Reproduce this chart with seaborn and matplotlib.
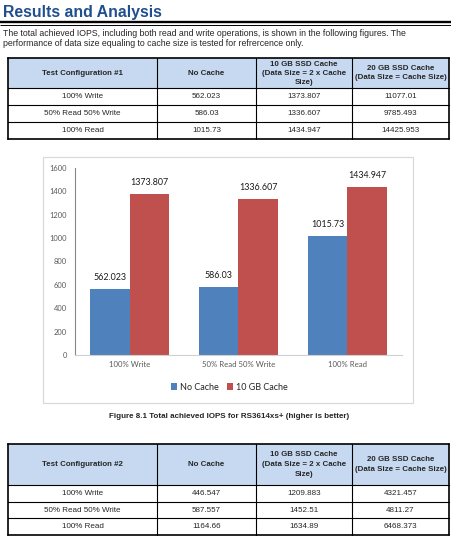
import pandas as pd
import matplotlib.pyplot as plt
import seaborn as sns
from matplotlib.patches import Rectangle

# Table / chart values read from the page
workloads = ["100% Write", "50% Read 50% Write", "100% Read"]

config1_no_cache = [562.023, 586.03, 1015.73]
config1_ssd_10gb = [1373.807, 1336.607, 1434.947]
config1_ssd_20gb = ["11077.01", "9785.493", "14425.953"]

config2_no_cache = ["446.547", "587.557", "1164.66"]
config2_ssd_10gb = ["1209.883", "1452.51", "1634.89"]
config2_ssd_20gb = ["4321.457", "4811.27", "6468.373"]

series_names = ["No Cache", "10 GB Cache"]
y_ticks = [0, 200, 400, 600, 800, 1000, 1200, 1400, 1600]

sns.set_theme(style="white")
plt.rcParams['font.family'] = ['Liberation Sans', 'DejaVu Sans']

BLUE = "#4F81BD"
RED = "#C0504D"
HEAD_FILL = "#C6D9F1"
TITLE_BLUE = "#1F4F8F"
CHART_FONT = ['Lato', 'DejaVu Sans']

fig = plt.figure(figsize=(4.52, 5.38), dpi=100)
fig.patch.set_facecolor("white")

# page layer in pixel coordinates (origin top-left)
page = fig.add_axes([0, 0, 1, 1], zorder=0)
page.set_xlim(0, 452)
page.set_ylim(538, 0)
page.axis('off')

# --- heading and intro text ---
page.text(3, 12, "Results and Analysis", fontsize=11.4, weight='bold',
          color=TITLE_BLUE, va='center', ha='left')
page.plot([0, 452], [22.2, 22.2], color='black', lw=1.7, solid_capstyle='butt')
page.plot([0, 452], [24.9, 24.9], color='black', lw=0.7, solid_capstyle='butt')
page.text(3, 33.3, "The total achieved IOPS, including both read and write operations, "
          "is shown in the following figures. The", fontsize=6.33, va='center')
page.text(3, 44, "performance of data size equaling to cache size is tested for "
          "refrercence only.", fontsize=6.33, va='center')

COLS = [8, 157, 256, 352, 449]


def draw_table(top, header_h, row_h, config_label, c1, c2, c3, line_gap):
    bottom = top + header_h + row_h * len(workloads)
    page.add_patch(Rectangle((COLS[0], top), COLS[-1] - COLS[0], header_h,
                             facecolor=HEAD_FILL, edgecolor='none'))
    ys = [top, top + header_h] + [top + header_h + row_h * (i + 1) for i in range(len(workloads))]
    for y in ys:
        lw = 1.2 if y in (top, bottom) else 0.8
        page.plot([COLS[0], COLS[-1]], [y, y], color='black', lw=lw, solid_capstyle='projecting')
    for x in COLS:
        lw = 1.2 if x in (COLS[0], COLS[-1]) else 0.8
        page.plot([x, x], [top, bottom], color='black', lw=lw)

    mids = [(COLS[i] + COLS[i + 1]) / 2 for i in range(4)]
    hc = top + header_h / 2
    kw = dict(fontsize=5.7, weight='bold', ha='center', va='center')
    page.text(mids[0], hc, config_label, **kw)
    page.text(mids[1], hc, "No Cache", **kw)
    for k, line in enumerate(["10 GB SSD Cache", "(Data Size = 2 x Cache", "Size)"]):
        page.text(mids[2], hc + (k - 1) * line_gap, line, **kw)
    for k, line in enumerate(["20 GB SSD Cache", "(Data Size = Cache Size)"]):
        page.text(mids[3], hc + (k - 0.5) * line_gap, line, **kw)

    for i, name in enumerate(workloads):
        yc = top + header_h + row_h * (i + 0.5)
        for j, val in enumerate([name, c1[i], c2[i], c3[i]]):
            page.text(mids[j], yc, str(val), fontsize=5.8, ha='center', va='center')


draw_table(58, 30.3, 16.9, "Test Configuration #1",
           config1_no_cache, config1_ssd_10gb, config1_ssd_20gb, 8.9)
draw_table(444.3, 40.7, 16.7, "Test Configuration #2",
           config2_no_cache, config2_ssd_10gb, config2_ssd_20gb, 10)

# --- chart frame and caption ---
page.add_patch(Rectangle((43, 157), 370, 246, facecolor='white',
                         edgecolor='#D9D9D9', lw=0.9))
page.text(229, 416, "Figure 8.1 Total achieved IOPS for RS3614xs+ (higher is better)",
          fontsize=5.8, weight='bold', ha='center', va='center')

# --- bar chart ---
df = pd.DataFrame({
    "Workload": workloads * 2,
    "Series": [series_names[0]] * 3 + [series_names[1]] * 3,
    "IOPS": config1_no_cache + config1_ssd_10gb,
})

ax = fig.add_axes([75 / 452, (538 - 355) / 538, 327 / 452, 187 / 538], zorder=2)
ax.set_facecolor('none')
sns.barplot(data=df, x="Workload", y="IOPS", hue="Series", palette=[BLUE, RED],
            width=0.73, saturation=1, linewidth=0, ax=ax)

for cont, vals in zip(ax.containers, [config1_no_cache, config1_ssd_10gb]):
    ax.bar_label(cont, labels=[str(v) for v in vals], padding=5,
                 fontsize=6.4, color='#1a1a1a', family=CHART_FONT)

ax.set_ylim(0, 1600)
ax.set_yticks(y_ticks)
ax.set_xlabel("")
ax.set_ylabel("")
ax.tick_params(axis='both', length=0, colors='#595959', labelsize=5.4, pad=4)
for lab in ax.get_xticklabels() + ax.get_yticklabels():
    lab.set_family(CHART_FONT)
for lab in ax.get_xticklabels():
    lab.set_fontsize(5.6)
ax.yaxis.set_tick_params(pad=6)
sns.despine(ax=ax, top=True, right=True)
ax.spines['left'].set_color('#868686')
ax.spines['left'].set_linewidth(0.8)
ax.spines['bottom'].set_color('#D0D0D0')
ax.spines['bottom'].set_linewidth(0.8)

ax.legend(loc='center', bbox_to_anchor=(229 / 452, (538 - 387) / 538),
          bbox_transform=fig.transFigure, ncol=2, frameon=False,
          handlelength=0.75, handleheight=0.75, handletextpad=0.25,
          columnspacing=0.9, prop={'family': CHART_FONT, 'size': 6.5})

fig.savefig('out.png', dpi=100)
